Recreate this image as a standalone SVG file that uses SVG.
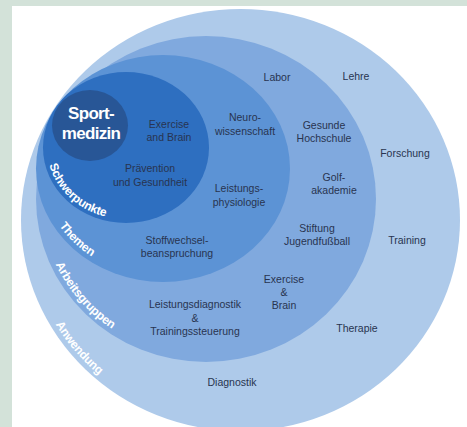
<svg xmlns="http://www.w3.org/2000/svg" width="467" height="427" viewBox="0 0 467 427">
<style>
.t{font-family:"Liberation Sans",Arial,sans-serif;font-size:10.5px;fill:#283450;text-anchor:middle}
.c{font-family:"Liberation Sans",Arial,sans-serif;font-size:12px;font-weight:bold;fill:#ffffff;text-anchor:middle;letter-spacing:-0.2px}
.h{font-family:"Liberation Sans",Arial,sans-serif;font-size:17px;font-weight:bold;fill:#ffffff;text-anchor:middle;letter-spacing:-0.7px}
</style>
<defs>
<path id="pS" d="M47.2,152.5 A79,71.5 0 0 0 117.7,218.6"/>
<path id="pT" d="M41.9,181.7 A122,108.5 0 0 0 135.6,274.2"/>
<path id="pA" d="M41.5,211.4 A165,158 0 0 0 161.9,351.3"/>
<path id="pW" d="M28.8,253.3 A214.5,206 0 0 0 164.7,412.7"/>
</defs>
<rect width="467" height="427" fill="#d3e2d9"/>
<rect x="12" y="6" width="455" height="421" fill="#ffffff"/>

<g id="anwendung">
<ellipse cx="240.5" cy="220" rx="219.5" ry="211" fill="#aecaea"/>
<text class="c"><textPath href="#pW" startOffset="50%">Anwendung</textPath></text>
<text class="t" x="356" y="80">Lehre</text>
<text class="t" x="405" y="157">Forschung</text>
<text class="t" x="407" y="244">Training</text>
<text class="t" x="357" y="332">Therapie</text>
<text class="t" x="232" y="386">Diagnostik</text>
</g>

<g id="arbeitsgruppen">
<ellipse cx="206" cy="199" rx="170" ry="163" fill="#80a9de"/>
<text class="c"><textPath href="#pA" startOffset="50%">Arbeitsgruppen</textPath></text>
<text class="t" x="277" y="81">Labor</text>
<text class="t" x="324" y="129">Gesunde</text>
<text class="t" x="324" y="142">Hochschule</text>
<text class="t" x="334" y="181">Golf-</text>
<text class="t" x="334" y="194">akademie</text>
<text class="t" x="317" y="232">Stiftung</text>
<text class="t" x="317" y="245">Jugendfußball</text>
<text class="t" x="284" y="283">Exercise</text>
<text class="t" x="284" y="296">&amp;</text>
<text class="t" x="284" y="309">Brain</text>
<text class="t" x="195" y="308">Leistungsdiagnostik</text>
<text class="t" x="195" y="322">&amp;</text>
<text class="t" x="195" y="335">Trainingssteuerung</text>
</g>

<g id="themen">
<ellipse cx="163" cy="168.5" rx="127" ry="113.5" fill="#5c93d5"/>
<text class="c"><textPath href="#pT" startOffset="50%">Themen</textPath></text>
<text class="t" x="245" y="121">Neuro-</text>
<text class="t" x="245" y="135">wissenschaft</text>
<text class="t" x="239" y="192">Leistungs-</text>
<text class="t" x="239" y="206">physiologie</text>
<text class="t" x="177" y="244">Stoffwechsel-</text>
<text class="t" x="177" y="257">beanspruchung</text>
</g>

<g id="schwerpunkte">
<ellipse cx="126" cy="147.5" rx="83" ry="75.5" fill="#2e6fc0"/>
<text class="c"><textPath href="#pS" startOffset="50%">Schwerpunkte</textPath></text>
<text class="t" x="169" y="128">Exercise</text>
<text class="t" x="169" y="141">and Brain</text>
<text class="t" x="150" y="172">Prävention</text>
<text class="t" x="150" y="186">und Gesundheit</text>
</g>

<g id="sportmedizin">
<ellipse cx="90" cy="125.5" rx="38" ry="35.5" fill="#285696"/>
<text class="h" x="91" y="119">Sport-</text>
<text class="h" x="91" y="139">medizin</text>
</g>
</svg>
